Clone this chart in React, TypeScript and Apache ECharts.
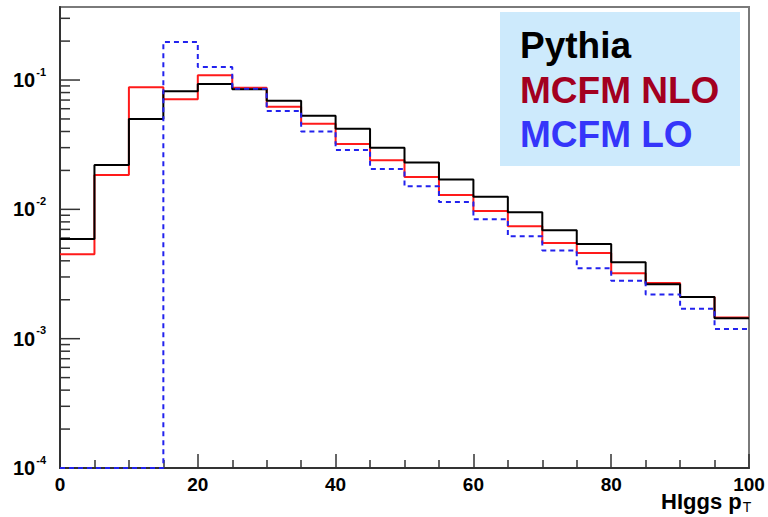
import React, { useEffect, useRef } from "react";
import * as echarts from "echarts";

// Bin left edges (GeV), bin width 5, last edge 100
const binEdges = [0, 5, 10, 15, 20, 25, 30, 35, 40, 45, 50, 55, 60, 65, 70, 75, 80, 85, 90, 95, 100];

const pythia = [0.0059, 0.022, 0.05, 0.082, 0.093, 0.085, 0.069, 0.053, 0.042, 0.03, 0.023, 0.017, 0.0125, 0.0095, 0.0069, 0.0054, 0.0039, 0.00264, 0.0021, 0.00144];
const mcfmNLO = [0.0045, 0.0184, 0.088, 0.071, 0.109, 0.087, 0.062, 0.046, 0.032, 0.024, 0.0178, 0.0129, 0.0097, 0.0074, 0.0055, 0.0046, 0.0032, 0.0027, 0.0021, 0.00146];
const mcfmLO = [0.0001, 0.0001, 0.0001, 0.197, 0.126, 0.0855, 0.0575, 0.04, 0.0288, 0.0205, 0.0151, 0.0114, 0.0084, 0.0062, 0.0048, 0.0035, 0.0028, 0.0022, 0.0017, 0.00119];

const legendNames = ["Pythia", "MCFM NLO", "MCFM LO"];
const legendColors = ["#000000", "#a3001f", "#3535fa"];

const yMin = 0.0001;
const yMax = 0.367;
const yDecades = [0.0001, 0.001, 0.01, 0.1];
const yMinorMultipliers = [2, 3, 4, 5, 6, 7, 8, 9];

const FONT = "Liberation Sans, Arial, sans-serif";

function stepData(vals: number[]) {
  const pts: number[][] = vals.map((v, i) => [binEdges[i], v]);
  pts.push([binEdges[binEdges.length - 1], vals[vals.length - 1]]);
  return pts;
}

export default function App() {
  const ref = useRef<HTMLDivElement>(null);
  useEffect(() => {
    if (!ref.current) return;
    const chart = echarts.init(ref.current, null, { renderer: "svg" });

    const tickData: number[][] = [];
    yDecades.forEach((d) => {
      tickData.push([0, d, 20]);
      yMinorMultipliers.forEach((m) => {
        const v = d * m;
        if (v <= yMax) tickData.push([0, v, 10]);
      });
    });

    const option: any = {
      animation: false,
      backgroundColor: "#ffffff",
      grid: {
        left: 60,
        right: 19,
        top: 7,
        bottom: 49,
        show: true,
        borderColor: "#7a7a7a",
        borderWidth: 2,
        backgroundColor: "transparent",
      },
      xAxis: {
        type: "value",
        min: 0,
        max: 100,
        interval: 20,
        axisLine: { show: true, lineStyle: { color: "#333", width: 2 } },
        axisTick: { show: true, inside: true, length: 14, lineStyle: { color: "#333", width: 1.5 } },
        minorTick: { show: true, splitNumber: 4, length: 8, lineStyle: { color: "#333", width: 1.5 } },
        splitLine: { show: false },
        axisLabel: {
          color: "#000",
          fontFamily: FONT,
          fontWeight: "bold",
          fontSize: 19,
          margin: 7,
        },
      },
      yAxis: {
        type: "log",
        logBase: 10,
        min: yMin,
        max: yMax,
        axisLine: { show: true, lineStyle: { color: "#333", width: 2 } },
        axisTick: { show: false },
        splitLine: { show: false },
        axisLabel: {
          showMaxLabel: false,
          margin: 14,
          formatter: (v: number) => {
            const e = Math.log10(v);
            const r = Math.round(e);
            if (Math.abs(e - r) > 1e-6) return "";
            return "{b|10}{s|" + r + "}";
          },
          rich: {
            b: { fontFamily: FONT, fontWeight: "bold", fontSize: 20, color: "#000" },
            s: { fontFamily: FONT, fontWeight: "bold", fontSize: 11, color: "#000", padding: [0, 0, 17, 1] },
          },
        },
      },
      series: [
        {
          type: "custom",
          silent: true,
          encode: { x: 0, y: 1 },
          data: tickData,
          clip: false,
          z: 1,
          renderItem: (params: any, api: any) => {
            const v = api.value(1);
            const len = api.value(2);
            const p = api.coord([0, v]);
            return {
              type: "line",
              shape: { x1: p[0], y1: p[1], x2: p[0] + len, y2: p[1] },
              style: { stroke: "#333", lineWidth: 1.5 },
            };
          },
        },
        {
          name: legendNames[1],
          type: "line",
          step: "end",
          showSymbol: false,
          data: stepData(mcfmNLO),
          lineStyle: { color: "#ff1a1a", width: 2 },
          z: 2,
        },
        {
          name: legendNames[0],
          type: "line",
          step: "end",
          showSymbol: false,
          data: stepData(pythia),
          lineStyle: { color: "#000000", width: 2 },
          z: 3,
        },
        {
          name: legendNames[2],
          type: "line",
          step: "end",
          showSymbol: false,
          data: stepData(mcfmLO),
          lineStyle: { color: "#2222ee", width: 2, type: [5, 4] },
          z: 4,
        },
      ],
      graphic: [
        {
          type: "rect",
          shape: { x: 500, y: 12, width: 240, height: 154 },
          style: { fill: "#cdeafc" },
          z: 10,
        },
        ...legendNames.map((n, i) => ({
          type: "text",
          x: 520,
          y: [45, 90, 134][i],
          z: 11,
          style: {
            text: n,
            fill: legendColors[i],
            fontFamily: FONT,
            fontWeight: "bold",
            fontSize: 37,
            verticalAlign: "middle",
            align: "left",
          },
        })),
        {
          type: "text",
          x: 661,
          y: 501,
          z: 11,
          style: {
            text: "{a|HIggs p}{t|T}",
            verticalAlign: "middle",
            align: "left",
            rich: {
              a: { fontFamily: FONT, fontWeight: "bold", fontSize: 22, fill: "#000", color: "#000" },
              t: { fontFamily: FONT, fontWeight: "normal", fontSize: 14, fill: "#000", color: "#000", padding: [12, 0, 0, 1] },
            },
          },
        },
      ],
    };
    chart.setOption(option);
    return () => chart.dispose();
  }, []);
  return <div ref={ref} style={{ width: 768, height: 517, position: "absolute", left: 0, top: 0 }} />;
}
